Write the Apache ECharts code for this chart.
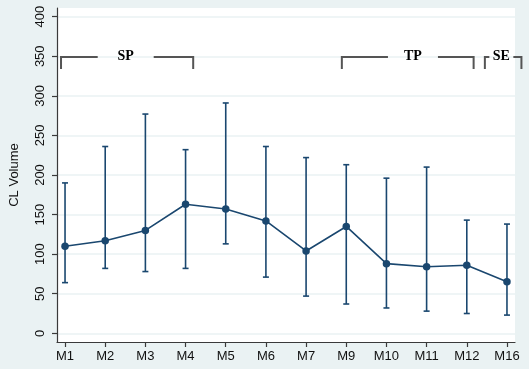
<!DOCTYPE html>
<html>
<head>
<meta charset="utf-8">
<script src="https://cdn.jsdelivr.net/npm/echarts@6/dist/echarts.min.js"></script>
<style>html,body{margin:0;padding:0;background:#eaf2f3;}#c{width:529px;height:369px;}</style>
</head>
<body>
<div id="c"></div>
<script>
const categories = ['M1','M2','M3','M4','M5','M6','M7','M9','M10','M11','M12','M16'];
const meanValues = [110, 117, 130, 163, 157, 142, 104, 135, 88, 84, 86, 65];
const lowerValues = [64, 82, 78, 82, 113, 71, 47, 37, 32, 28, 25, 23];
const upperValues = [190, 236, 277, 232, 291, 236, 222, 213, 196, 210, 143, 138];
const yTicks = [0, 50, 100, 150, 200, 250, 300, 350, 400];
const bracketLabels = ['SP', 'TP', 'SE'];
const bracketFrom = [-0.1, 6.89, 10.45];
const bracketTo = [3.19, 10.17, 11.36];
const bracketLabelAt = [1.51, 8.66, 10.86];

const NAVY = '#1a476f';
const chart = echarts.init(document.getElementById('c'), null, {renderer: 'canvas'});
const xIdx = categories.map((c, i) => i);
const gapHalf = [28, 25, 12];

chart.setOption({
  backgroundColor: '#eaf2f3',
  animation: false,
  grid: {left: 52, right: 14, top: 8, bottom: 27, show: true, backgroundColor: '#ffffff', borderWidth: 0},
  xAxis: {
    type: 'value', min: -0.2, max: 11.2,
    axisLine: {show: true, onZero: false, lineStyle: {color: '#3a3a3a', width: 1.2}},
    axisTick: {show: true, length: 5, customValues: xIdx, lineStyle: {color: '#3a3a3a', width: 1.2}},
    axisLabel: {customValues: xIdx, margin: 8, fontFamily: 'Liberation Sans, Arial, sans-serif', fontSize: 13, color: '#111',
      formatter: v => categories[Math.round(v)]},
    splitLine: {show: false}
  },
  yAxis: {
    type: 'value', min: -11, max: 411,
    name: 'CL Volume', nameLocation: 'middle', nameGap: 36, nameRotate: 90,
    nameTextStyle: {fontFamily: 'Liberation Sans, Arial, sans-serif', fontSize: 13, color: '#111'},
    axisLine: {show: true, onZero: false, lineStyle: {color: '#3a3a3a', width: 1.2}},
    axisTick: {show: true, length: 5, customValues: yTicks, lineStyle: {color: '#3a3a3a', width: 1.2}},
    axisLabel: {customValues: yTicks, rotate: 90, margin: 10, fontFamily: 'Liberation Sans, Arial, sans-serif', fontSize: 13, color: '#111'},
    splitLine: {show: true, lineStyle: {color: '#eaf2f3', width: 1.5}}
  },
  series: [
    {
      type: 'custom',
      data: categories.map((c, i) => [i, lowerValues[i], upperValues[i]]),
      renderItem: function (params, api) {
        const x = api.value(0);
        const lo = api.coord([x, api.value(1)]);
        const hi = api.coord([x, api.value(2)]);
        const w = 3;
        const st = {stroke: NAVY, lineWidth: 1.6};
        return {type: 'group', children: [
          {type: 'line', shape: {x1: lo[0], y1: lo[1], x2: hi[0], y2: hi[1]}, style: st},
          {type: 'line', shape: {x1: lo[0] - w, y1: lo[1], x2: lo[0] + w, y2: lo[1]}, style: st},
          {type: 'line', shape: {x1: hi[0] - w, y1: hi[1], x2: hi[0] + w, y2: hi[1]}, style: st}
        ]};
      },
      z: 2
    },
    {
      type: 'line',
      data: categories.map((c, i) => [i, meanValues[i]]),
      symbol: 'circle', symbolSize: 7.5,
      lineStyle: {color: NAVY, width: 1.6},
      itemStyle: {color: NAVY},
      z: 3
    },
    {
      type: 'custom',
      data: bracketLabels.map((l, i) => [bracketFrom[i], bracketTo[i], bracketLabelAt[i], i]),
      renderItem: function (params, api) {
        const i = api.value(3);
        const a = api.coord([api.value(0), 349]);
        const b = api.coord([api.value(1), 349]);
        const c = api.coord([api.value(2), 349]);
        const yb = api.coord([0, 334])[1];
        const g = gapHalf[i];
        const st = {stroke: '#555555', lineWidth: 2};
        return {type: 'group', children: [
          {type: 'polyline', shape: {points: [[a[0], yb], [a[0], a[1]], [c[0] - g, a[1]]]}, style: Object.assign({fill: null}, st)},
          {type: 'polyline', shape: {points: [[c[0] + g, a[1]], [b[0], b[1]], [b[0], yb]]}, style: Object.assign({fill: null}, st)},
          {type: 'text', style: {text: bracketLabels[i], x: c[0], y: a[1] - 1, align: 'center', verticalAlign: 'middle',
            font: 'bold 14px "Liberation Serif", "Times New Roman", serif', fill: '#000'}}
        ]};
      },
      clip: false,
      z: 4
    }
  ]
});
</script>
</body>
</html>
